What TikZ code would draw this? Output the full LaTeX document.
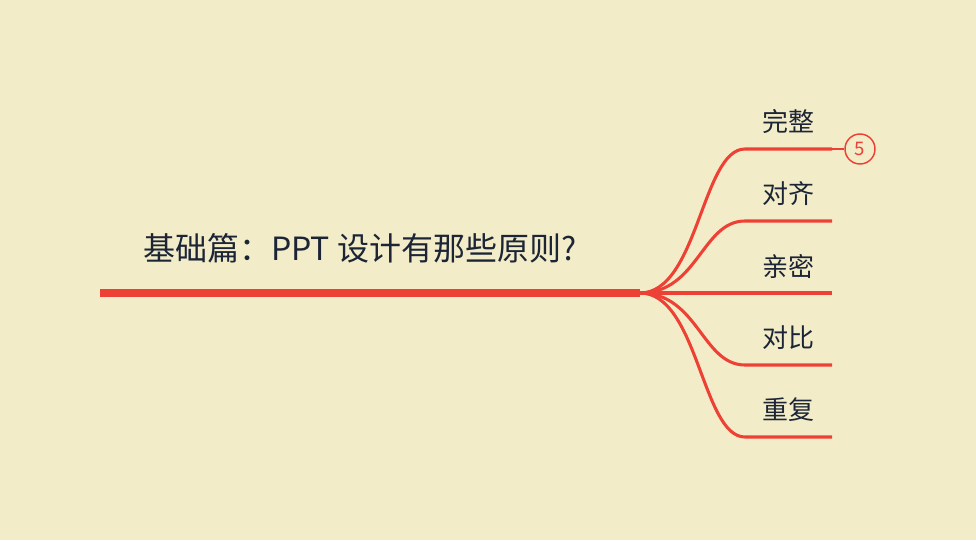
\documentclass[tikz,border=0pt]{standalone}
\usepackage{fontspec}
\newfontfamily\cjk{Noto Sans CJK SC}
\definecolor{bg}{HTML}{F3ECC9}
\definecolor{redl}{HTML}{EE4135}
\definecolor{txt}{HTML}{1C2535}
\begin{document}
\begin{tikzpicture}[x=0.75pt,y=-0.75pt,
  branch/.style={draw=redl,line width=2.3pt,line cap=butt},
  lbl/.style={font=\cjk\fontsize{19.5}{22}\selectfont,text=txt,inner sep=0pt,anchor=center},
  badge/.style={circle,draw=redl,line width=1.1pt,minimum size=22.5pt,inner sep=0pt,text=redl,font=\cjk\fontsize{14}{15}\selectfont}]
\useasboundingbox[fill=bg] (0,0) rectangle (976,540);
\node[font=\cjk\fontsize{24}{28}\selectfont,text=txt,anchor=west,inner sep=0pt] (title) at (143,248) {基础篇：PPT 设计有那些原则?};
\coordinate (m0) at (100,293);
\coordinate (m1) at (640,293);
\draw[redl,line width=5.5pt] (m0) -- (m1);
\foreach \y/\t/\n in {149/完整/a,221/对齐/b,293/亲密/c,365/对比/d,437/重复/e}{
  \coordinate (s\n) at (745,\y);
  \coordinate (e\n) at (832,\y);
  \draw[branch] (m1) .. controls (698,293) and (702,\y) .. (s\n) -- (e\n);
  \node[lbl] (l\n) at (788,{\y-27}) {\t};
}
\node[badge] (b5) at (860,149) {5};
\draw[redl,line width=1.1pt] (ea) -- (b5);
\end{tikzpicture}
\end{document}
